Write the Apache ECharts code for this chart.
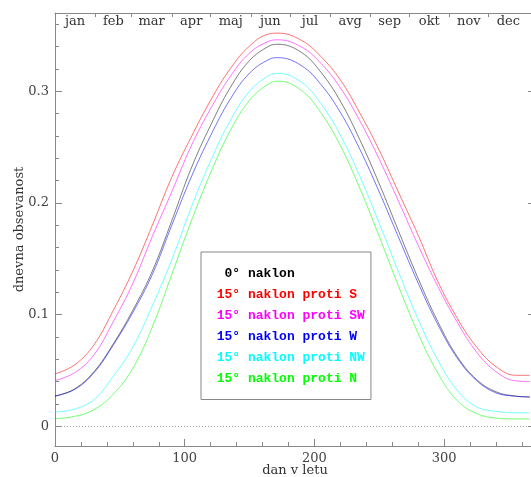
<!DOCTYPE html>
<html>
<head>
<meta charset="utf-8">
<script src="https://cdn.jsdelivr.net/npm/echarts@6/dist/echarts.min.js"></script>
<style>
  html, body { margin: 0; padding: 0; background: #fff; }
  #main { width: 531px; height: 477px; }
</style>
</head>
<body>
<div id="main"></div>
<script>
// dan v letu (x) za vse krivulje
const days = [0, 15, 30, 45, 60, 75, 90, 105, 120, 135, 150, 165, 172, 190, 205, 220, 235, 250, 265, 280, 295, 310, 325, 340, 355, 366];

const naklon0 = [0.0272, 0.0335, 0.049, 0.074, 0.104, 0.139, 0.184, 0.231, 0.2696, 0.303, 0.3275, 0.3404, 0.342, 0.3347, 0.317, 0.291, 0.2565, 0.217, 0.1743, 0.1323, 0.094, 0.0627, 0.042, 0.031, 0.0272, 0.0264];
const protiS  = [0.047, 0.055, 0.073, 0.104, 0.139, 0.180, 0.223, 0.259, 0.292, 0.320, 0.3405, 0.3513, 0.352, 0.3455, 0.331, 0.310, 0.2805, 0.247, 0.209, 0.171, 0.130, 0.097, 0.071, 0.0535, 0.0458, 0.0457];
const protiSW = [0.041, 0.048, 0.064, 0.094, 0.128, 0.170, 0.210, 0.251, 0.2845, 0.313, 0.3342, 0.3448, 0.346, 0.3396, 0.325, 0.303, 0.2735, 0.239, 0.201, 0.162, 0.1255, 0.0934, 0.0665, 0.049, 0.0408, 0.0402];
const protiW  = [0.0272, 0.033, 0.048, 0.073, 0.102, 0.136, 0.180, 0.2231, 0.2604, 0.2927, 0.3162, 0.3285, 0.330, 0.3229, 0.306, 0.281, 0.248, 0.2097, 0.1687, 0.1282, 0.0914, 0.0613, 0.041, 0.030, 0.027, 0.0264];
const protiNW = [0.0128, 0.0155, 0.024, 0.045, 0.071, 0.108, 0.149, 0.196, 0.2378, 0.2735, 0.3, 0.3141, 0.316, 0.3081, 0.289, 0.2607, 0.2237, 0.1816, 0.1376, 0.0957, 0.0597, 0.0324, 0.0175, 0.0135, 0.0122, 0.0122];
const protiN  = [0.0069, 0.009, 0.015, 0.029, 0.052, 0.089, 0.136, 0.1835, 0.2271, 0.2645, 0.292, 0.3068, 0.309, 0.3007, 0.2807, 0.2513, 0.213, 0.1698, 0.125, 0.0831, 0.0479, 0.0232, 0.0115, 0.0075, 0.0067, 0.0068];

// meseci zgoraj
const months = ['jan', 'feb', 'mar', 'apr', 'maj', 'jun', 'jul', 'avg', 'sep', 'okt', 'nov', 'dec'];
const monthStart = [31, 59, 90, 120, 151, 181, 212, 243, 273, 304, 334];
const monthMid = [15.5, 45, 74.5, 105, 135.5, 166, 196.5, 227.5, 258, 288.5, 319, 349.5];

const xMajor = [0, 100, 200, 300];
const xMinor = [20, 40, 60, 80, 120, 140, 160, 180, 220, 240, 260, 280, 320, 340, 360];
const yMajor = [0, 0.1, 0.2, 0.3];
const yMinor = [0.02, 0.04, 0.06, 0.08, 0.12, 0.14, 0.16, 0.18, 0.22, 0.24, 0.26, 0.28, 0.32, 0.34, 0.36];

const names = ['0° naklon', '15° naklon proti S', '15° naklon proti SW', '15° naklon proti W', '15° naklon proti NW', '15° naklon proti N'];
const colors = ['#000000', '#ff0000', '#ff00ff', '#0000ff', '#00ffff', '#00ff00'];
const values = [naklon0, protiS, protiSW, protiW, protiNW, protiN];

const axisGray = '#888';
const serif = 'DejaVu Serif';

function pairs(vals) {
  return days.map((d, i) => [d, vals[i]]);
}

const myChart = echarts.init(document.getElementById('main'));

// crna prva, modra gre cez njo
const order = [1, 2, 0, 3, 4, 5];
const series = order.map((k, n) => {
  const s = {
    name: names[k],
    type: 'line',
    xAxisIndex: 0,
    yAxisIndex: 0,
    data: pairs(values[k]),
    smooth: 0.4,
    showSymbol: false,
    symbol: 'none',
    silent: true,
    z: 3 + n,
    lineStyle: { color: colors[k], width: 1, opacity: k === 0 ? 0.5 : 0.55 },
    itemStyle: { color: colors[k] }
  };
  if (n === 0) {
    s.markLine = {
      silent: true,
      symbol: 'none',
      label: { show: false },
      lineStyle: { color: '#999', type: [1, 2], width: 1 },
      data: [{ yAxis: 0 }]
    };
  }
  return s;
});

const option = {
  backgroundColor: '#fff',
  animation: false,
  grid: { left: 55, top: 13, width: 480, height: 433, outerBoundsMode: 'none' },
  legend: {
    orient: 'vertical',
    left: 201,
    top: 252,
    padding: [14.5, 6, 14.5, 10.7],
    itemGap: 7.5,
    itemWidth: 0,
    itemHeight: 14,
    icon: 'none',
    selectedMode: false,
    backgroundColor: '#fff',
    borderColor: axisGray,
    borderWidth: 1,
    formatter: function (name) {
      return name === names[0] ? ' ' + name : name;
    },
    textStyle: { fontFamily: 'Liberation Mono', fontWeight: 'bold', fontSize: 13 },
    data: names.map((n, i) => ({ name: n, textStyle: { color: colors[i] } }))
  },
  xAxis: [
    {
      type: 'value', position: 'bottom', min: 0, max: 370,
      name: 'dan v letu', nameLocation: 'middle', nameGap: 18, nameMoveOverlap: false,
      nameTextStyle: { fontFamily: serif, fontSize: 13, color: '#333' },
      axisLine: { show: true, onZero: false, lineStyle: { color: axisGray } },
      axisTick: { show: true, inside: true, length: 7, customValues: xMajor, lineStyle: { color: axisGray } },
      axisLabel: { customValues: xMajor, margin: 6, fontFamily: serif, fontSize: 13, color: '#444' },
      splitLine: { show: false }
    },
    {
      type: 'value', position: 'bottom', min: 0, max: 370,
      axisLine: { show: false, onZero: false },
      axisTick: { show: true, inside: true, length: 4, customValues: xMinor, lineStyle: { color: axisGray } },
      axisLabel: { show: false },
      splitLine: { show: false }
    },
    {
      type: 'value', position: 'top', min: 0, max: 370,
      axisLine: { show: true, onZero: false, lineStyle: { color: axisGray } },
      axisTick: { show: true, inside: true, length: 4, customValues: monthStart, lineStyle: { color: axisGray } },
      axisLabel: {
        inside: true, margin: 2.5, customValues: monthMid,
        fontFamily: serif, fontSize: 13, color: '#333',
        formatter: function (v) { return months[monthMid.indexOf(v)]; }
      },
      splitLine: { show: false }
    }
  ],
  yAxis: [
    {
      type: 'value', position: 'left', min: -0.0175, max: 0.37,
      name: 'dnevna obsevanost', nameLocation: 'middle', nameGap: 29, nameMoveOverlap: false,
      nameTextStyle: { fontFamily: serif, fontSize: 13, color: '#333' },
      axisLine: { show: true, onZero: false, lineStyle: { color: axisGray } },
      axisTick: { show: true, inside: true, length: 7, customValues: yMajor, lineStyle: { color: axisGray } },
      axisLabel: {
        customValues: yMajor, margin: 6, fontFamily: serif, fontSize: 13, color: '#444',
        formatter: function (v) { return v === 0 ? '0' : v.toFixed(1); }
      },
      splitLine: { show: false }
    },
    {
      type: 'value', position: 'left', min: -0.0175, max: 0.37,
      axisLine: { show: false, onZero: false },
      axisTick: { show: true, inside: true, length: 4, customValues: yMinor, lineStyle: { color: axisGray } },
      axisLabel: { show: false },
      splitLine: { show: false }
    },
    {
      type: 'value', position: 'right', min: -0.0175, max: 0.37,
      axisLine: { show: true, onZero: false, lineStyle: { color: axisGray } },
      axisTick: { show: true, inside: true, length: 7, customValues: yMajor, lineStyle: { color: axisGray } },
      axisLabel: { show: false },
      splitLine: { show: false }
    },
    {
      type: 'value', position: 'right', min: -0.0175, max: 0.37,
      axisLine: { show: false, onZero: false },
      axisTick: { show: true, inside: true, length: 4, customValues: yMinor, lineStyle: { color: axisGray } },
      axisLabel: { show: false },
      splitLine: { show: false }
    }
  ],
  series: series
};

myChart.setOption(option);
</script>
</body>
</html>
